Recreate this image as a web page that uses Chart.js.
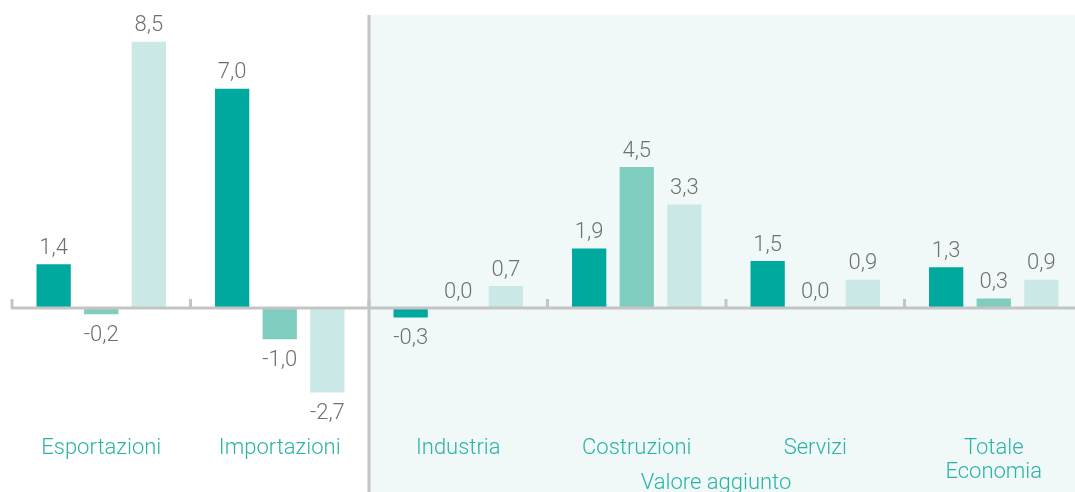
<!DOCTYPE html>
<html>
<head>
<meta charset="utf-8">
<script src="https://cdn.jsdelivr.net/npm/chart.js@4/dist/chart.umd.min.js"></script>
<style>
    html, body { margin: 0; padding: 0; background: #fff; overflow: hidden; }
    #wrap { width: 1100px; height: 492px; }
</style>
</head>
<body>
<div id="wrap"><canvas id="chart" width="1100" height="492"></canvas></div>
<script>
const categories = ['Esportazioni', 'Importazioni', 'Industria', 'Costruzioni', 'Servizi', ['Totale', 'Economia']];
const series1 = [1.4, 7.0, -0.3, 1.9, 1.5, 1.3];
const series2 = [-0.2, -1.0, 0.0, 4.5, 0.0, 0.3];
const series3 = [8.5, -2.7, 0.7, 3.3, 0.9, 0.9];
const groupLabel = 'Valore aggiunto';

const colors = ['#00A99D', '#7FCDBF', '#C9E8E6'];
const fontFamily = 'Roboto, "Open Sans", sans-serif';

function fmt(v) {
    return v.toFixed(1).replace('.', ',');
}

// shaded block, separator, zero line, ticks
const backdrop = {
    id: 'backdrop',
    beforeDraw(chart) {
        const ctx = chart.ctx;
        const x = chart.scales.x;
        const sep = (x.getPixelForValue(1) + x.getPixelForValue(2)) / 2;
        ctx.save();
        ctx.fillStyle = '#F0F9F8';
        ctx.fillRect(sep, 15, chart.width - sep, chart.height - 15);
        ctx.restore();
    },
    afterDatasetsDraw(chart) {
        const ctx = chart.ctx;
        const x = chart.scales.x;
        const y0 = chart.scales.y.getPixelForValue(0);
        const step = x.getPixelForValue(1) - x.getPixelForValue(0);
        ctx.save();
        ctx.strokeStyle = '#C4C4C4';
        ctx.lineWidth = 3;
        ctx.beginPath();
        ctx.moveTo(chart.chartArea.left - 1, y0);
        ctx.lineTo(chart.width, y0);
        ctx.stroke();
        for (let i = 0; i < categories.length; i++) {
            const bx = x.getPixelForValue(i) - step / 2;
            ctx.beginPath();
            ctx.moveTo(bx, y0 - 9);
            ctx.lineTo(bx, y0);
            ctx.stroke();
        }
        const sep = (x.getPixelForValue(1) + x.getPixelForValue(2)) / 2;
        ctx.beginPath();
        ctx.moveTo(sep, 15);
        ctx.lineTo(sep, chart.height);
        ctx.stroke();

        // value labels
        ctx.fillStyle = '#707070';
        ctx.font = '300 22px ' + fontFamily;
        ctx.textAlign = 'center';
        chart.data.datasets.forEach((ds, di) => {
            chart.getDatasetMeta(di).data.forEach((bar, i) => {
                const v = ds.data[i];
                if (v < 0) {
                    ctx.textBaseline = 'top';
                    ctx.fillText(fmt(v), bar.x, bar.y + 10);
                } else {
                    ctx.textBaseline = 'bottom';
                    ctx.fillText(fmt(v), bar.x, bar.y - 5);
                }
            });
        });

        // group label under the value-added categories
        ctx.fillStyle = '#2BB3A7';
        ctx.font = '300 22px ' + fontFamily;
        ctx.textBaseline = 'middle';
        const gx = (x.getPixelForValue(2) + x.getPixelForValue(5)) / 2 - 10;
        ctx.fillText(groupLabel, gx, 483);
        ctx.restore();
    }
};

new Chart(document.getElementById('chart'), {
    type: 'bar',
    data: {
        labels: categories,
        datasets: [
            {data: series1, backgroundColor: colors[0]},
            {data: series2, backgroundColor: colors[1]},
            {data: series3, backgroundColor: colors[2]}
        ]
    },
    options: {
        responsive: false,
        animation: false,
        layout: {padding: {left: 12, right: 17, top: 26, bottom: 0}},
        datasets: {bar: {categoryPercentage: 0.8, barPercentage: 0.72}},
        plugins: {legend: {display: false}, tooltip: {enabled: false}},
        scales: {
            x: {
                grid: {display: false, drawTicks: false},
                border: {display: false},
                ticks: {
                    color: '#2BB3A7',
                    padding: 34,
                    autoSkip: false,
                    maxRotation: 0,
                    minRotation: 0,
                    font: {family: fontFamily, size: 22, weight: 300, lineHeight: 1.1}
                },
                afterFit: (s) => { s.height = 90; }
            },
            y: {
                display: false,
                min: -3,
                max: 9
            }
        }
    },
    plugins: [backdrop]
});
</script>
</body>
</html>
